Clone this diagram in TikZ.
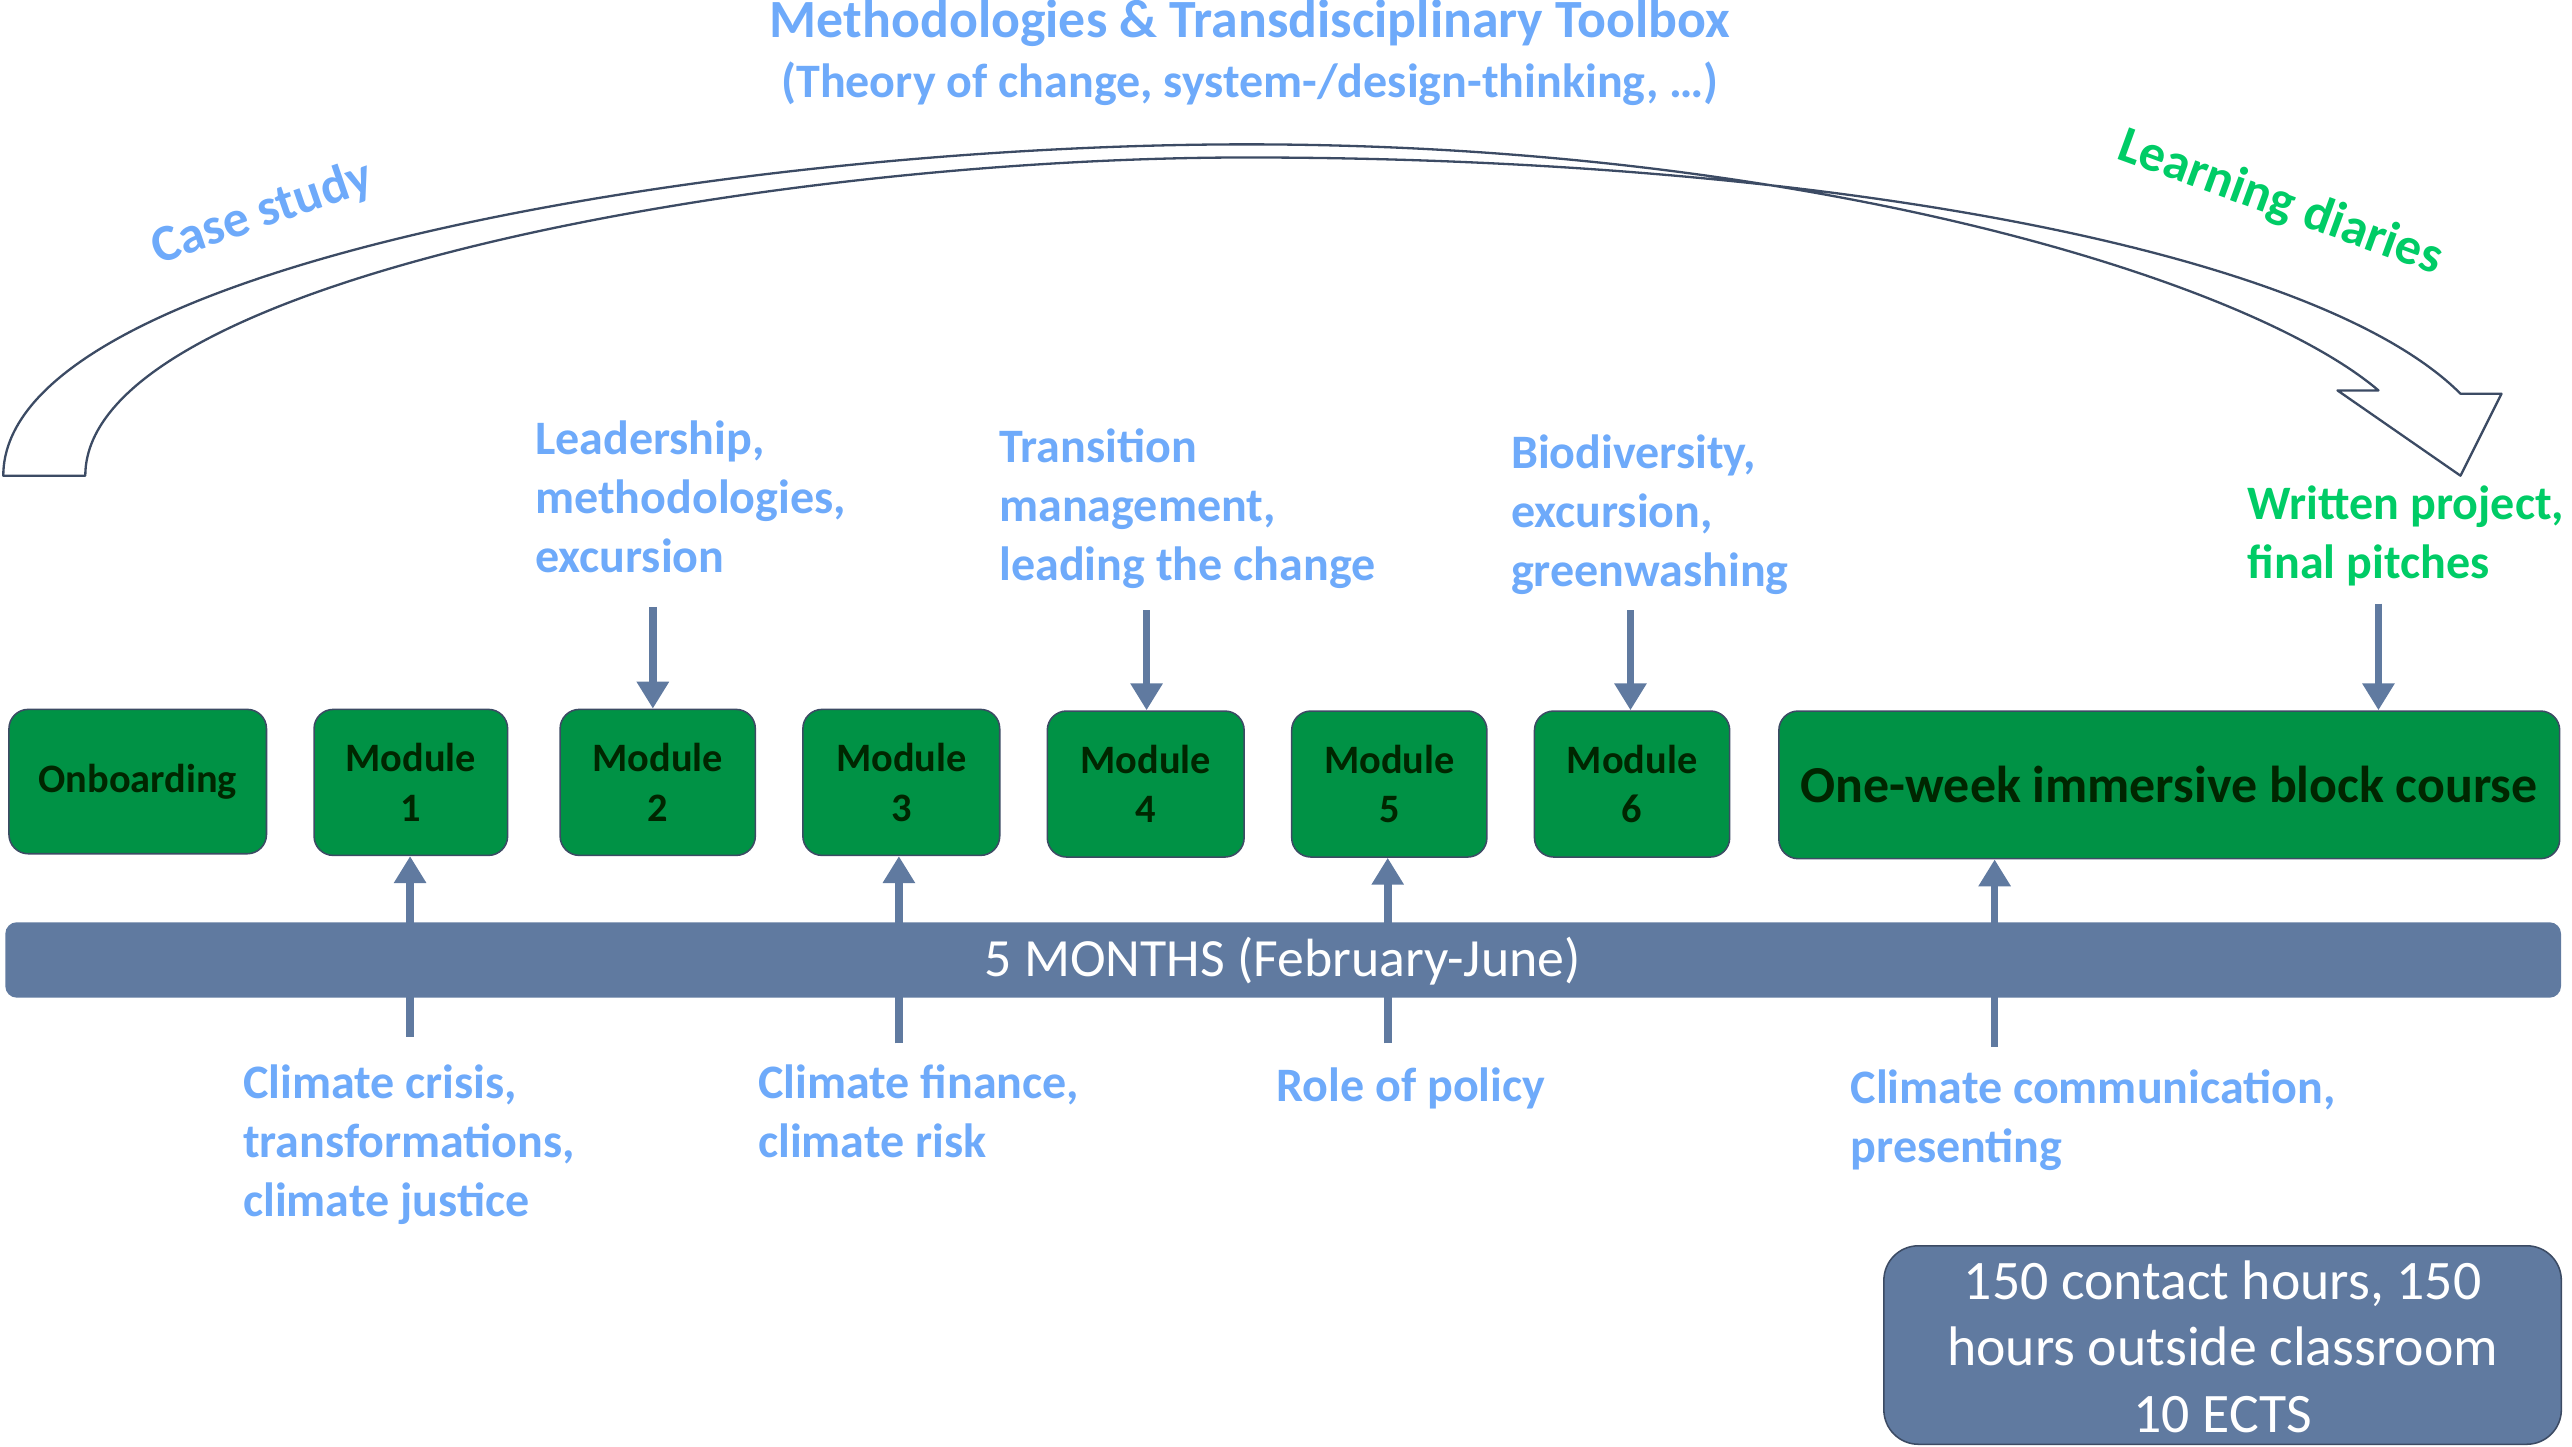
\documentclass[tikz,border=0pt]{standalone}
\usepackage{fontspec}
\setmainfont{Carlito}
\usetikzlibrary{arrows.meta}
\definecolor{lblue}{RGB}{110,170,250}
\definecolor{lgreen}{RGB}{0,204,102}
\definecolor{boxgreen}{RGB}{0,146,69}
\definecolor{slate}{RGB}{96,122,160}
\definecolor{dslate}{RGB}{60,75,100}
\tikzset{
 lbl/.style={anchor=north west,inner sep=0pt,align=left,text=lblue,font=\fontsize{25}{30.7}\selectfont\bfseries},
 glbl/.style={lbl,text=lgreen},
 mod/.style={draw=dslate,line width=0.8pt,fill=boxgreen,rounded corners=10pt,align=center,font=\fontsize{21}{25.6}\selectfont\bfseries,text=black!85!green},
 arr/.style={draw=slate,line width=4pt,-{Triangle[length=14pt,width=16pt]}},
}
\begin{document}
\begin{tikzpicture}[x=0.03cm,y=-0.03cm]
\useasboundingbox (0,0) rectangle (1568,882);
% curved hollow arrow
\draw[draw=dslate,line width=1.2pt,fill=white,line join=round]
 (2,290) .. controls (2,160) and (450,88) .. (760,88)
 .. controls (1100,88) and (1370,170) .. (1450,238)
 -- (1425,238) -- (1500,290) -- (1525,240) -- (1500,240)
 .. controls (1410,150) and (1100,96) .. (760,96)
 .. controls (470,96) and (52,170) .. (52,290) -- cycle;
\node[text=lblue,font=\fontsize{28}{34}\selectfont\bfseries] (t1) at (762,14) {Methodologies \& Transdisciplinary Toolbox};
\node[text=lblue,font=\fontsize{25}{30}\selectfont\bfseries] (t2) at (762,51) {(Theory of change, system-/design-thinking, …)};
\node[text=lblue,font=\fontsize{27}{30}\selectfont\bfseries,rotate=19] (cs) at (160,130) {Case study};
\node[text=lgreen,font=\fontsize{27}{30}\selectfont\bfseries,rotate=-20] (ld) at (1390,124) {Learning diaries};
% up arrows (behind bar)
\coordinate (u1) at (250,632); \coordinate (u2) at (548,636);
\coordinate (u3) at (846,636); \coordinate (u4) at (1216,638);
% boxes
\node[mod,anchor=north west,minimum width=4.71cm,minimum height=2.64cm] (on) at (5,432) {Onboarding};
\node[mod,anchor=north west,minimum width=3.54cm,minimum height=2.67cm] (m1) at (191,432) {Module\\1};
\node[mod,anchor=north west,minimum width=3.57cm,minimum height=2.67cm] (m2) at (341,432) {Module\\2};
\node[mod,anchor=north west,minimum width=3.6cm,minimum height=2.67cm] (m3) at (489,432) {Module\\3};
\node[mod,anchor=north west,minimum width=3.6cm,minimum height=2.67cm] (m4) at (638,433) {Module\\4};
\node[mod,anchor=north west,minimum width=3.57cm,minimum height=2.67cm] (m5) at (787,433) {Module\\5};
\node[mod,anchor=north west,minimum width=3.57cm,minimum height=2.67cm] (m6) at (935,433) {Module\\6};
\node[mod,anchor=north west,minimum width=14.28cm,minimum height=2.7cm,font=\fontsize{27}{32}\selectfont\bfseries] (bc) at (1084,433) {One-week immersive block course};
\draw[arr] (u1) -- (u1 |- m1.south);
\draw[arr] (u2) -- (u2 |- m3.south);
\draw[arr] (u3) -- (u3 |- m5.south);
\draw[arr] (u4) -- (u4 |- bc.south);
% bar
\node[fill=slate,rounded corners=6pt,anchor=north west,minimum width=46.74cm,minimum height=1.38cm] (bar) at (3,562) {};
\node[text=white,font=\fontsize{28}{32}\selectfont] (bt) at (782,586) {5 MONTHS (February-June)};
% top labels
\node[lbl] (l2) at (326,256) {Leadership,\\methodologies,\\excursion};
\node[lbl] (l4) at (609,261) {Transition\\management,\\leading the change};
\node[lbl] (l6) at (921,265) {Biodiversity,\\excursion,\\greenwashing};
\node[glbl] (lw) at (1370,296) {Written project,\\final pitches};
\coordinate (d2) at (398,370); \coordinate (d4) at (699,372);
\coordinate (d6) at (994,372); \coordinate (dw) at (1450,368);
\draw[arr] (d2) -- (d2 |- m2.north);
\draw[arr] (d4) -- (d4 |- m4.north);
\draw[arr] (d6) -- (d6 |- m6.north);
\draw[arr] (dw) -- (dw |- bc.north);
% bottom labels
\node[lbl] (b1) at (148,649) {Climate crisis,\\transformations,\\climate justice};
\node[lbl] (b3) at (462,649) {Climate finance,\\climate risk};
\node[lbl] (b5) at (778,651) {Role of policy};
\node[lbl] (b7) at (1128,652) {Climate communication,\\presenting};
% info box
\node[fill=slate,draw=dslate,line width=0.8pt,rounded corners=18pt,anchor=north west,minimum width=12.39cm,minimum height=3.63cm] (info) at (1148,759) {};
\node[text=white,align=center,font=\fontsize{29}{34.5}\selectfont] (it) at (1355,821) {150 contact hours, 150\\hours outside classroom\\10 ECTS};
\end{tikzpicture}
\end{document}
